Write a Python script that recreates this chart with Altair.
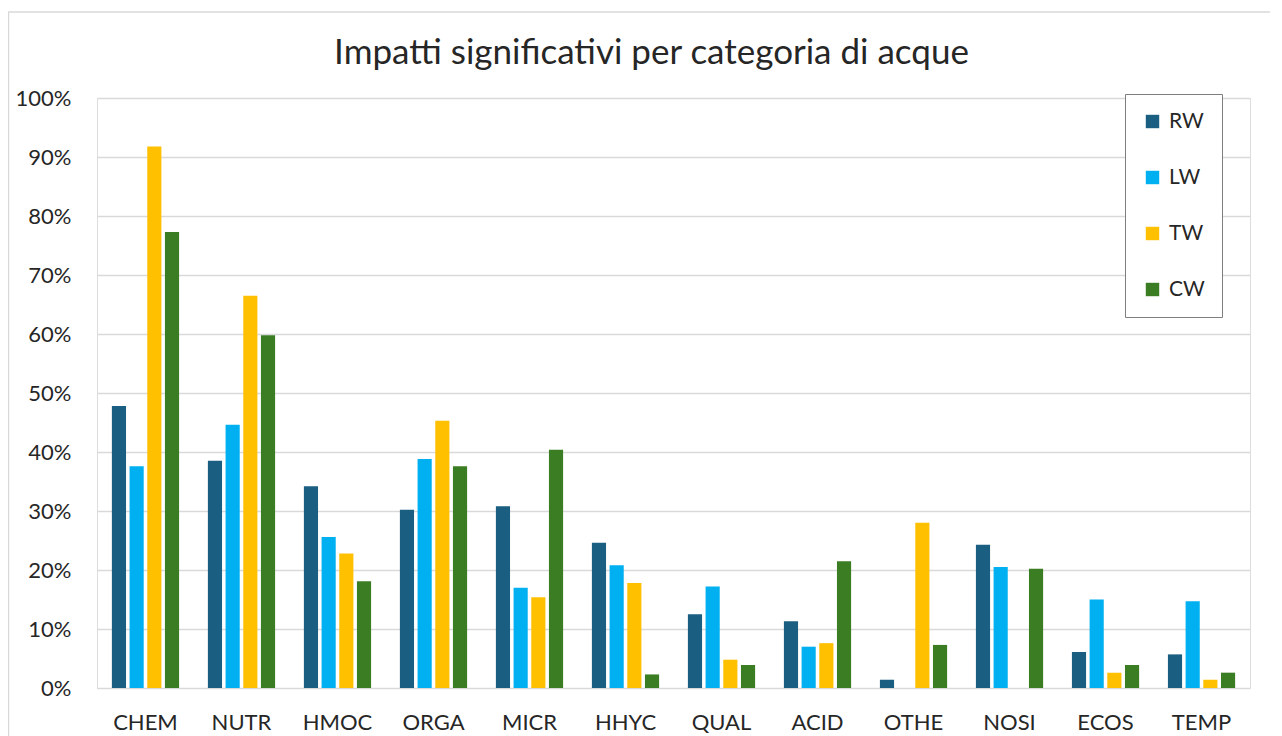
import altair as alt
import pandas as pd

categories = ["CHEM", "NUTR", "HMOC", "ORGA", "MICR", "HHYC", "QUAL", "ACID", "OTHE", "NOSI", "ECOS", "TEMP"]
series = ["RW", "LW", "TW", "CW"]
rw = [47.8, 38.5, 34.2, 30.2, 30.8, 24.6, 12.5, 11.3, 1.4, 24.3, 6.1, 5.7]
lw = [37.6, 44.6, 25.6, 38.8, 17.0, 20.8, 17.2, 7.0, 0.0, 20.5, 15.0, 14.7]
tw = [91.8, 66.5, 22.8, 45.3, 15.4, 17.8, 4.8, 7.6, 28.0, 0.0, 2.6, 1.4]
cw = [77.3, 59.8, 18.1, 37.6, 40.4, 2.3, 3.9, 21.5, 7.3, 20.2, 3.9, 2.6]
colors = ["#1a5e82", "#00b0f0", "#ffc000", "#3b7d23"]
y_ticks = [0, 0.1, 0.2, 0.3, 0.4, 0.5, 0.6, 0.7, 0.8, 0.9, 1.0]
title_text = "Impatti significativi per categoria di acque"

rows = []
for s, vals in zip(series, [rw, lw, tw, cw]):
    for c, v in zip(categories, vals):
        rows.append({"cat": c, "series": s, "value": v / 100.0})
df = pd.DataFrame(rows)

FONT = "Lato"
TXT = "#262626"

bars = alt.Chart(df).mark_bar().encode(
    x=alt.X("cat:N", sort=categories, title=None,
            scale=alt.Scale(paddingInner=0.30, paddingOuter=0.155),
            axis=alt.Axis(labelAngle=0, labelFontSize=22, labelFont=FONT, labelColor=TXT,
                          labelPadding=24, ticks=False, domain=False)),
    xOffset=alt.XOffset("series:N", sort=series, scale=alt.Scale(paddingInner=0.2, paddingOuter=0)),
    y=alt.Y("value:Q", title=None,
            scale=alt.Scale(domain=[0, 1], nice=False),
            axis=alt.Axis(format=".0%", values=y_ticks, labelFontSize=22, labelFont=FONT,
                          labelColor=TXT, labelPadding=26, ticks=False, domain=False,
                          grid=True, gridColor="#d9d9d9", gridWidth=1.5)),
    color=alt.Color("series:N", sort=series,
                    scale=alt.Scale(domain=series, range=colors),
                    legend=alt.Legend(title=None, orient="none", legendX=1028, legendY=-4,
                                      direction="vertical",
                                      symbolType="square", symbolSize=180, symbolStrokeWidth=0,
                                      labelFontSize=21, labelFont=FONT, labelColor=TXT,
                                      labelOffset=6, rowPadding=34, padding=17,
                                      strokeColor="#7f7f7f",
                                      fillColor="white")),
)

frame = alt.Chart(pd.DataFrame({"k": [0]})).mark_rect(
    fill=None, stroke="#d9d9d9", strokeWidth=1.5
).encode(
    x=alt.value(-88.5), x2=alt.value(1200), y=alt.value(-86), y2=alt.value(660)
)

chart = alt.layer(frame, bars).properties(
    width=1153,
    height=590,
    padding={"left": 89, "top": 90, "right": 20, "bottom": 60},
    autosize=alt.AutoSizeParams(type="none"),
    title=alt.TitleParams(title_text, font=FONT, fontSize=35, fontWeight="normal",
                          color=TXT, anchor="middle", frame="group", dx=-22, offset=-88,
                          baseline="alphabetic"),
).configure_view(stroke=None).configure(background="white")

chart.save("out.html", embed_options={"renderer": "svg", "actions": False})
